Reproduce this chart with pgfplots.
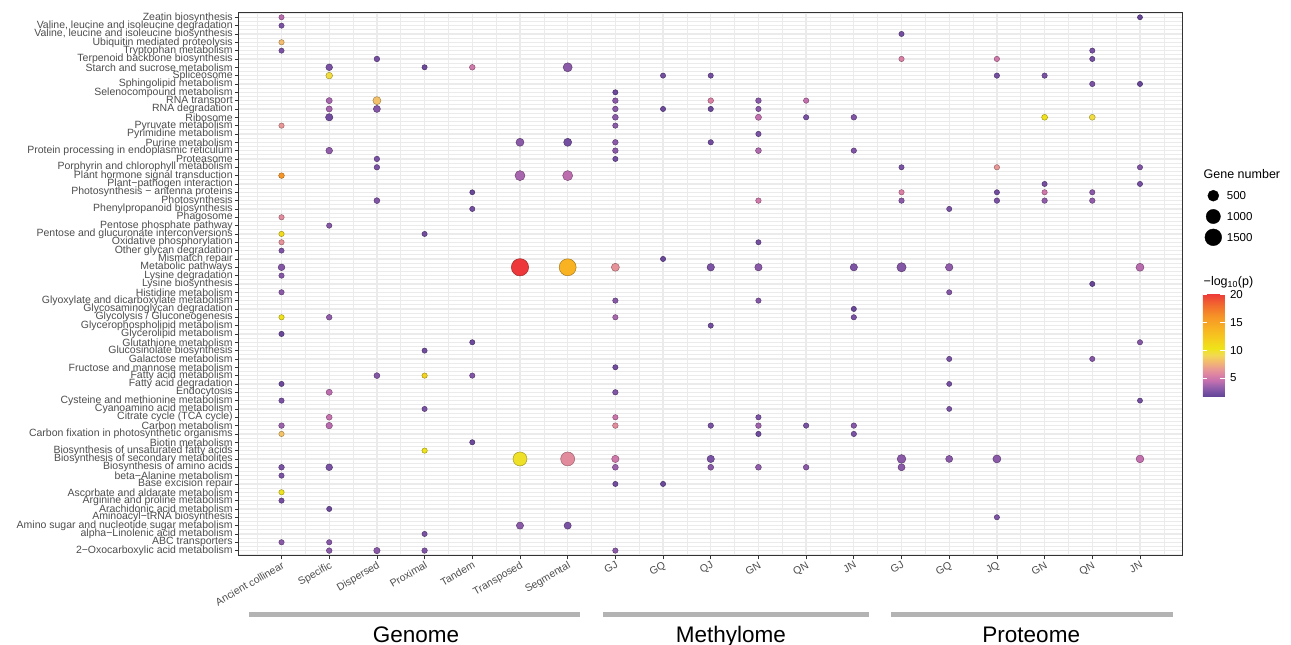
\documentclass[border=0pt]{standalone}
\usepackage{fontspec}
\setmainfont{Liberation Sans}
\usepackage{pgfplots}
\usepackage{pgfplotstable}
\pgfplotsset{compat=1.18}
\definecolor{tickc}{HTML}{333333}
\definecolor{labc}{HTML}{4D4D4D}
\definecolor{gridc}{HTML}{EBEBEB}
\definecolor{barc}{HTML}{B3B3B3}
\pgfplotsset{colormap={ggp}{rgb255(1.7)=(100,68,150) rgb255(2.5)=(122,82,164) rgb255(3.5)=(155,98,172) rgb255(4.5)=(196,112,175) rgb255(5.5)=(218,128,165) rgb255(6.5)=(232,150,150) rgb255(8)=(243,188,110) rgb255(9.2)=(243,218,80) rgb255(10.3)=(238,228,25) rgb255(12)=(245,205,30) rgb255(14)=(248,178,34) rgb255(16)=(246,150,38) rgb255(18)=(242,110,45) rgb255(20.3)=(237,55,58)}}
\pgfplotstableread{
x y p n
0 65 4.2 36
18 65 1.8 30
0 64 2.5 36
13 63 2.3 36
0 62 8 40
0 61 2.5 36
17 61 2.5 36
2 60 2.3 50
13 60 5.5 40
15 60 5 40
17 60 2.3 36
1 59 2.5 100
3 59 2 36
4 59 5 50
6 59 3 280
1 58 9.5 100
8 58 2.3 36
9 58 2.3 36
15 58 2.3 40
16 58 2.5 40
17 57 2.5 40
18 57 1.8 36
7 56 2 36
1 55 3.8 70
2 55 8.2 190
7 55 3 50
9 55 5.5 50
10 55 3 50
11 55 4.5 40
1 54 3.8 70
2 54 2.8 120
7 54 3 50
8 54 2 36
9 54 2 40
10 54 3 40
1 53 2.2 140
7 53 3 60
10 53 4.5 70
11 53 2.5 40
12 53 2.7 50
16 53 10.5 60
17 53 9.5 60
0 52 6.5 40
7 52 3 40
10 51 2.5 40
5 50 3 190
6 50 2.3 190
7 50 3 50
9 50 2.2 40
1 49 3.2 100
7 49 3 50
10 49 4 60
12 49 2.7 40
2 48 2.5 45
7 48 2.2 36
2 47 2.5 45
13 47 2.5 36
15 47 6.5 40
18 47 2.7 36
0 46 16 50
5 46 3.8 380
6 46 4.3 380
16 45 2.3 36
18 45 2.3 36
4 44 1.9 30
13 44 5.5 40
15 44 2.2 36
16 44 5 40
17 44 3 40
2 43 2.7 60
10 43 5 45
13 43 3 45
15 43 2.5 45
16 43 3.2 45
17 43 3.2 45
4 42 2.3 36
14 42 2.5 36
0 41 6 40
1 40 2.8 40
0 39 11 40
3 39 2.2 36
0 38 6.3 40
10 38 2.3 36
0 37 2.6 36
8 36 1.9 36
0 35 2.8 100
5 35 20.3 1620
6 35 14 1550
7 35 6.3 190
9 35 2.6 150
10 35 3 140
12 35 2.6 140
13 35 2.8 300
14 35 3.2 150
18 35 4.2 190
0 34 2.8 40
17 33 1.8 36
0 32 3 40
14 32 2.8 36
7 31 2.9 40
10 31 2.8 40
12 30 1.9 36
0 29 10.5 40
1 29 3.2 50
7 29 3.8 40
12 29 2.5 40
9 28 2.2 36
0 27 1.9 40
4 26 2 36
18 26 2.8 36
3 25 2.2 36
14 24 2.5 36
17 24 2.8 36
7 23 2.2 36
2 22 2.8 60
3 22 11.5 40
4 22 2.7 40
0 21 2 36
14 21 2.3 30
1 20 4.3 70
7 20 2.7 45
0 19 2.5 40
18 19 2.3 30
3 18 2.5 36
14 18 2.5 30
1 17 4.6 60
7 17 4.8 40
10 17 2.6 40
0 16 3.5 50
1 16 4.2 90
7 16 6 50
9 16 2.5 45
10 16 3.6 50
11 16 2.5 40
12 16 2.9 45
0 15 8.3 40
10 15 2.1 40
12 15 2.5 40
4 14 2 36
3 13 10.3 40
5 12 10 950
6 12 6 950
7 12 5 140
9 12 2.5 140
13 12 3 250
14 12 3 120
15 12 3 190
18 12 4.5 170
0 11 2.5 50
1 11 2.5 100
7 11 3.5 60
9 11 3 60
10 11 3.2 60
11 11 3 50
13 11 3 120
0 10 2.5 40
7 9 2.2 36
8 9 2 36
0 8 10.2 40
0 7 2.3 40
1 6 2 36
15 5 2.6 36
5 4 3 130
6 4 2.5 130
3 3 2.5 36
0 2 3 40
1 2 2.9 40
1 1 3 50
2 1 3 80
3 1 2.7 45
7 1 3 40
}\enrich
\begin{document}
\begin{tikzpicture}
\begin{axis}[
  at={(238.6pt,89.4pt)}, anchor=south west,
  scale only axis, width=944.3pt, height=543.3pt,
  xmin=-0.9, xmax=18.9, ymin=0.4, ymax=65.6,
  xtick={0,...,18},
  xticklabels={Ancient collinear,Specific,Dispersed,Proximal,Tandem,Transposed,Segmental,GJ,GQ,QJ,GN,QN,JN,GJ,GQ,JQ,GN,QN,JN},
  ytick={1,...,65},
  yticklabels={2−Oxocarboxylic acid metabolism,ABC transporters,alpha−Linolenic acid metabolism,Amino sugar and nucleotide sugar metabolism,Aminoacyl−tRNA biosynthesis,Arachidonic acid metabolism,Arginine and proline metabolism,Ascorbate and aldarate metabolism,Base excision repair,beta−Alanine metabolism,Biosynthesis of amino acids,Biosynthesis of secondary metabolites,Biosynthesis of unsaturated fatty acids,Biotin metabolism,Carbon fixation in photosynthetic organisms,Carbon metabolism,Citrate cycle (TCA cycle),Cyanoamino acid metabolism,Cysteine and methionine metabolism,Endocytosis,Fatty acid degradation,Fatty acid metabolism,Fructose and mannose metabolism,Galactose metabolism,Glucosinolate biosynthesis,Glutathione metabolism,Glycerolipid metabolism,Glycerophospholipid metabolism,Glycolysis / Gluconeogenesis,Glycosaminoglycan degradation,Glyoxylate and dicarboxylate metabolism,Histidine metabolism,Lysine biosynthesis,Lysine degradation,Metabolic pathways,Mismatch repair,Other glycan degradation,Oxidative phosphorylation,Pentose and glucuronate interconversions,Pentose phosphate pathway,Phagosome,Phenylpropanoid biosynthesis,Photosynthesis,Photosynthesis − antenna proteins,Plant−pathogen interaction,Plant hormone signal transduction,Porphyrin and chlorophyll metabolism,Proteasome,Protein processing in endoplasmic reticulum,Purine metabolism,Pyrimidine metabolism,Pyruvate metabolism,Ribosome,RNA degradation,RNA transport,Selenocompound metabolism,Sphingolipid metabolism,Spliceosome,Starch and sucrose metabolism,Terpenoid backbone biosynthesis,Tryptophan metabolism,Ubiquitin mediated proteolysis,{Valine, leucine and isoleucine biosynthesis},{Valine, leucine and isoleucine degradation},Zeatin biosynthesis},
  minor xtick={-0.5,0.5,...,18.5},
  minor ytick={0.5,1.5,...,65.5},
  grid=both,
  major grid style={gridc, line width=1.3pt},
  minor grid style={gridc, line width=0.65pt},
  tick align=outside, xtick pos=bottom, ytick pos=left,
  major tick length=3.7pt, minor tick length=0pt,
  major tick style={tickc, line width=0.7pt},
  axis line style={tickc, line width=1.1pt},
  xticklabel style={font=\fontsize{10.5}{12}\selectfont, text=labc, rotate=30, anchor=north east, inner sep=1pt},
  yticklabel style={font=\fontsize{10.5}{11}\selectfont, text=labc, inner sep=2pt},
  clip=false,
  colormap name=ggp, point meta min=1.7, point meta max=20.3,
  colorbar,
  colorbar/width=22pt,
  colorbar style={
    at={(parent axis.north east)}, anchor=north west,
    xshift=11.4pt, yshift=-280.7pt,
    scale only axis,
    height=103.3pt,
    axis line style={draw=none},
    ytick={5,10,15,20}, ytick pos=both, yticklabel pos=right,
    tick align=inside, major tick length=4.4pt,
    major tick style={white, line width=0.9pt},
    yticklabel style={font=\fontsize{11.5}{13}\selectfont, text=black, inner sep=2pt, xshift=3pt},
    /pgf/number format/assume math mode=true,
  },
]
\addplot[scatter, only marks, mark=*,
  point meta=explicit,
  visualization depends on={\thisrow{n} \as \gn},
  scatter/use mapped color={draw=mapped color!65!black, fill=mapped color},
  scatter/@pre marker code/.append style={/tikz/mark size={1.6+0.175*sqrt(\gn)}},
  mark options={line width=0.45pt},
] table[x=x, y=y, meta=p] {\enrich};
\draw[barc, line width=4.5pt] (axis cs:-0.68,-6.64) -- (axis cs:6.26,-6.64);
\draw[barc, line width=4.5pt] (axis cs:6.74,-6.64) -- (axis cs:12.32,-6.64);
\draw[barc, line width=4.5pt] (axis cs:12.78,-6.64) -- (axis cs:18.69,-6.64);
\node[anchor=base, font=\fontsize{22.5}{26}\selectfont] at (axis cs:2.82,-10.06) {Genome};
\node[anchor=base, font=\fontsize{22.5}{26}\selectfont] at (axis cs:9.42,-10.06) {Methylome};
\node[anchor=base, font=\fontsize{22.5}{26}\selectfont] at (axis cs:15.72,-10.06) {Proteome};
\end{axis}
\begin{axis}[
  at={(1203.3pt,397.3pt)}, anchor=south west,
  scale only axis, width=20pt, height=62.4pt,
  xmin=0, xmax=1, ymin=0, ymax=3, hide axis, clip=false,
]
\addplot[only marks, mark=*, black, mark size={1.6+0.175*sqrt(500)}] coordinates {(0.5,2.5)};
\addplot[only marks, mark=*, black, mark size={1.6+0.175*sqrt(1000)}] coordinates {(0.5,1.5)};
\addplot[only marks, mark=*, black, mark size={1.6+0.175*sqrt(1500)}] coordinates {(0.5,0.5)};
\node[anchor=west, font=\fontsize{11.5}{13}\selectfont, inner sep=0pt] at (axis cs:1.17,2.5) {500};
\node[anchor=west, font=\fontsize{11.5}{13}\selectfont, inner sep=0pt] at (axis cs:1.17,1.5) {1000};
\node[anchor=west, font=\fontsize{11.5}{13}\selectfont, inner sep=0pt] at (axis cs:1.17,0.5) {1500};
\end{axis}
\node[anchor=base west, inner sep=0pt, font=\fontsize{12.5}{14}\selectfont] at (1203.5pt,466.7pt) {Gene number};
\node[anchor=base west, inner sep=0pt, font=\fontsize{12.5}{14}\selectfont] at (1203.5pt,359.7pt) {−log\textsubscript{10}(p)};
\pgfresetboundingbox
\path[use as bounding box] (0,0) rectangle (1291pt,645pt);
\end{tikzpicture}
\end{document}
